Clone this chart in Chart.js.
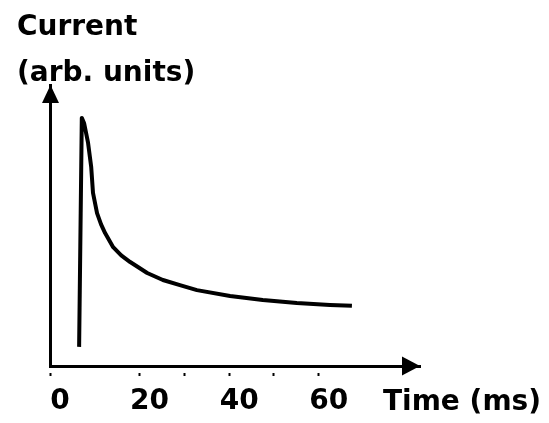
<!DOCTYPE html>
<html>
<head>
<meta charset="utf-8">
<script src="https://cdn.jsdelivr.net/npm/chart.js@4/dist/chart.umd.min.js"></script>
<style>
  html, body { margin: 0; padding: 0; background: #fff; }
  #wrap { width: 549px; height: 423px; }
</style>
</head>
<body>
<div id="wrap"><canvas id="c" width="549" height="423"></canvas></div>
<script>
// Data (time in ms, current in arbitrary units 0-100)
const timeMs = [6.5, 7.1, 7.6, 8.5, 9.2, 9.6, 10.5, 11.4, 12.3, 14.1, 15.9, 17.9, 21.7, 25.2, 29.0, 32.8, 40.2, 47.5, 55.1, 62.5, 67.4];
const current = [6.8, 88.3, 86.5, 79.4, 70.8, 61.6, 54.4, 50.4, 47.3, 42.3, 39.4, 37.0, 33.1, 30.6, 28.8, 27.0, 24.9, 23.5, 22.4, 21.7, 21.4];
const labeledTicks = [0, 20, 40, 60];
const tickMarks = [0, 20, 30, 40, 50, 60];
const yTitleLines = ['Current', '(arb. units)'];
const xTitle = 'Time (ms)';

const FONT = "'DejaVu Sans', sans-serif";

const points = timeMs.map((t, i) => ({ x: t, y: current[i] }));

const decor = {
  id: 'decor',
  afterDraw(chart) {
    const ctx = chart.ctx;
    const a = chart.chartArea;
    const yAxisX = chart.scales.y.right;
    const xAxisY = chart.scales.x.top;
    ctx.save();
    ctx.fillStyle = '#000';
    // x arrowhead
    ctx.beginPath();
    ctx.moveTo(a.right, xAxisY);
    ctx.lineTo(a.right - 18, xAxisY - 9.5);
    ctx.lineTo(a.right - 18, xAxisY + 9.5);
    ctx.closePath();
    ctx.fill();
    // y arrowhead
    ctx.beginPath();
    ctx.moveTo(yAxisX + 0.5, a.top);
    ctx.lineTo(yAxisX + 0.5 - 8.5, a.top + 18);
    ctx.lineTo(yAxisX + 0.5 + 8.5, a.top + 18);
    ctx.closePath();
    ctx.fill();
    // titles
    ctx.font = "bold 28px " + FONT;
    ctx.textAlign = 'left';
    ctx.textBaseline = 'alphabetic';
    ctx.fillText(yTitleLines[0], a.left - 33, 35);
    ctx.fillText(yTitleLines[1], a.left - 33, 81);
    ctx.fillText(xTitle, a.right - 37, a.bottom + 44);
    ctx.restore();
  }
};

new Chart(document.getElementById('c'), {
  type: 'line',
  data: {
    datasets: [{
      data: points,
      borderColor: '#000',
      borderWidth: 4,
      pointRadius: 0,
      fill: false,
      tension: 0,
      borderJoinStyle: 'round',
      borderCapStyle: 'butt'
    }]
  },
  options: {
    responsive: false,
    animation: false,
    events: [],
    layout: { padding: { left: 50, top: 85, right: 129, bottom: 0 } },
    plugins: { legend: { display: false }, tooltip: { enabled: false }, title: { display: false } },
    scales: {
      x: {
        type: 'linear',
        min: 0,
        max: 82.6,
        afterFit: s => { s.height = 57; },
        border: { display: true, color: '#000', width: 3 },
        grid: {
          display: true,
          drawOnChartArea: false,
          drawTicks: true,
          tickLength: 10,
          tickWidth: 2,
          tickBorderDash: [0, 5, 5, 100],
          tickColor: c => tickMarks.includes(c.tick && c.tick.value) ? '#000' : 'rgba(0,0,0,0)'
        },
        ticks: {
          stepSize: 10,
          autoSkip: false,
          maxRotation: 0,
          minRotation: 0,
          padding: 9,
          labelOffset: 10,
          color: '#000',
          font: { family: FONT, size: 28, weight: 'bold' },
          callback: v => labeledTicks.includes(v) ? String(v) : ''
        }
      },
      y: {
        min: 0,
        max: 100,
        afterFit: s => { s.width = 0; },
        border: { display: true, color: '#000', width: 3 },
        grid: { display: false },
        ticks: { display: false }
      }
    }
  },
  plugins: [decor]
});
</script>
</body>
</html>
